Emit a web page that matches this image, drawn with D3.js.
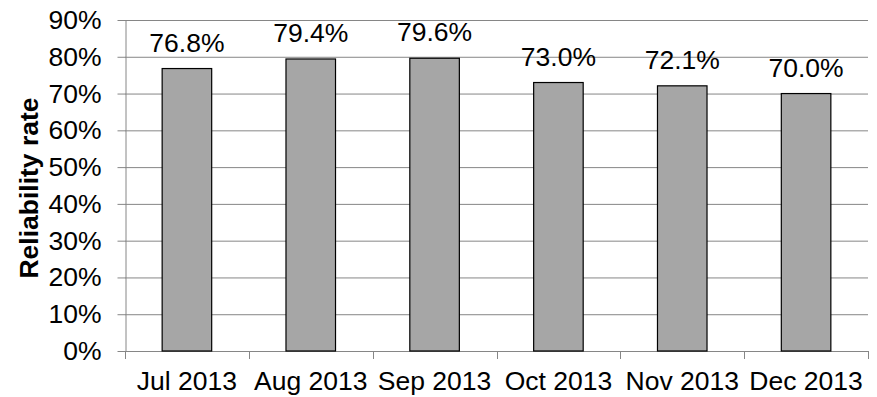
<!DOCTYPE html>
<html>
<head>
<meta charset="utf-8">
<script src="https://cdn.jsdelivr.net/npm/d3@7"></script>
<style>
  body { margin: 0; background: #fff; }
  text { font-family: "Liberation Sans", Arial, sans-serif; fill: #000; }
</style>
</head>
<body>
<div id="chart"></div>
<script>
// data
const months = ["Jul 2013", "Aug 2013", "Sep 2013", "Oct 2013", "Nov 2013", "Dec 2013"];
const rates = [76.8, 79.4, 79.6, 73.0, 72.1, 70.0];
const yTicks = [0, 10, 20, 30, 40, 50, 60, 70, 80, 90];

const width = 877, height = 397;
const plotLeft = 125, plotRight = 868, plotTop = 20, plotBottom = 351;
const fontSize = "26.5px";

const svg = d3.select("#chart").append("svg")
  .attr("width", width)
  .attr("height", height);

const x = d3.scaleBand().domain(months).range([plotLeft, plotRight]).paddingInner(0.6).paddingOuter(0.3);
const y = d3.scaleLinear().domain([0, 90]).range([plotBottom, plotTop]);

// gridlines
svg.append("g")
  .selectAll("line")
  .data(yTicks.filter(d => d > 0))
  .enter().append("line")
  .attr("x1", plotLeft).attr("x2", plotRight)
  .attr("y1", d => y(d) + 0.5).attr("y2", d => y(d) + 0.5)
  .attr("stroke", "#868686")
  .attr("stroke-width", 1);

// y axis
const yAxis = svg.append("g")
  .attr("transform", `translate(${plotLeft + 0.5},0)`)
  .call(d3.axisLeft(y).tickValues(yTicks).tickFormat(d => d + "%").tickSize(8).tickPadding(16).tickSizeOuter(0));
yAxis.select(".domain").attr("stroke", "#868686");
yAxis.selectAll(".tick line").attr("stroke", "#868686");
yAxis.selectAll(".tick text")
  .attr("font-size", fontSize)
  .attr("fill", "#000");

// x axis: ticks at category boundaries
const bounds = d3.range(months.length + 1).map(i => plotLeft + i * (plotRight - plotLeft) / months.length);
const xg = svg.append("g");
xg.append("line")
  .attr("x1", plotLeft).attr("x2", plotRight + 1)
  .attr("y1", plotBottom + 0.5).attr("y2", plotBottom + 0.5)
  .attr("stroke", "#868686");
xg.selectAll(".xtick")
  .data(bounds)
  .enter().append("line")
  .attr("class", "xtick")
  .attr("x1", d => Math.round(d) + 0.5).attr("x2", d => Math.round(d) + 0.5)
  .attr("y1", plotBottom).attr("y2", plotBottom + 8)
  .attr("stroke", "#868686");
xg.selectAll(".xlabel")
  .data(months)
  .enter().append("text")
  .attr("class", "xlabel")
  .attr("x", d => x(d) + x.bandwidth() / 2)
  .attr("y", 390)
  .attr("text-anchor", "middle")
  .attr("font-size", fontSize)
  .text(d => d);

// bars
svg.append("g")
  .selectAll("rect")
  .data(rates)
  .enter().append("rect")
  .attr("x", (d, i) => x(months[i]))
  .attr("y", d => y(d))
  .attr("width", x.bandwidth())
  .attr("height", d => y(0) - y(d))
  .attr("fill", "#a6a6a6")
  .attr("stroke", "#000")
  .attr("stroke-width", 1.2);

// value labels
svg.append("g")
  .selectAll("text")
  .data(rates)
  .enter().append("text")
  .attr("x", (d, i) => x(months[i]) + x.bandwidth() / 2)
  .attr("y", d => y(d) - 17)
  .attr("text-anchor", "middle")
  .attr("font-size", fontSize)
  .text(d => d.toFixed(1) + "%");

// axis title
svg.append("text")
  .attr("transform", `translate(38,188) rotate(-90)`)
  .attr("text-anchor", "middle")
  .attr("font-size", "26.5px")
  .attr("font-weight", "bold")
  .text("Reliability rate");
</script>
</body>
</html>
